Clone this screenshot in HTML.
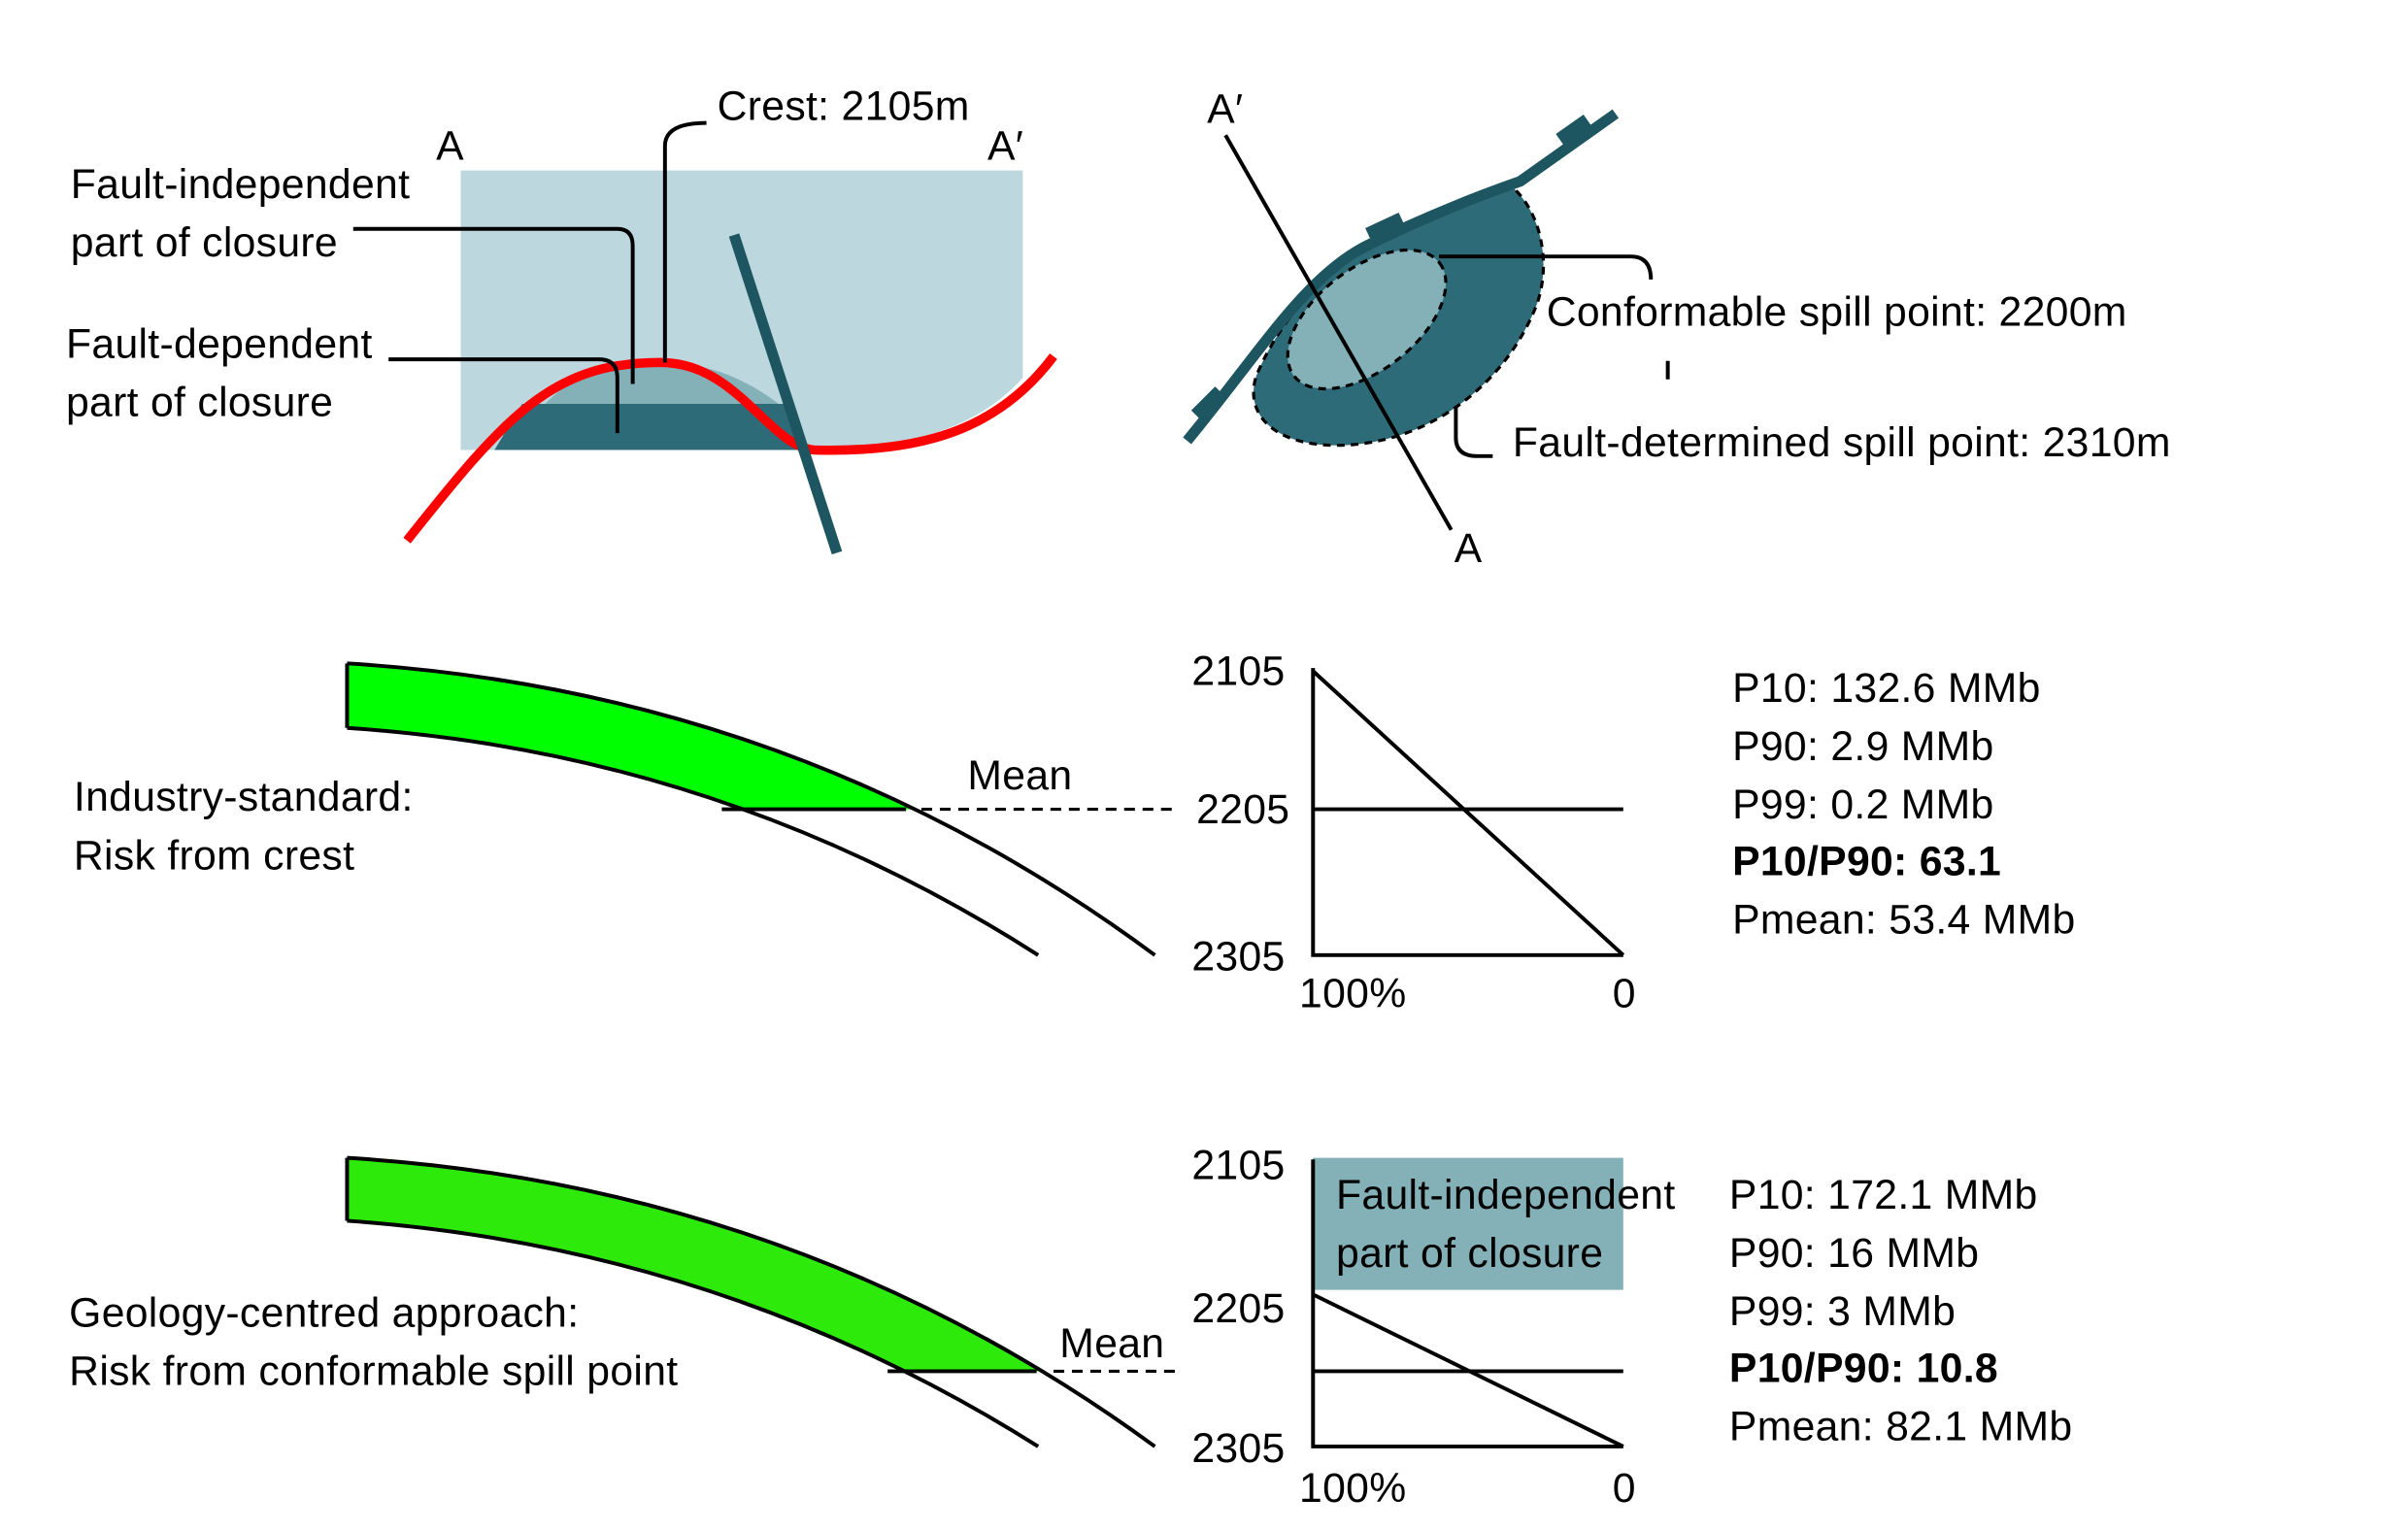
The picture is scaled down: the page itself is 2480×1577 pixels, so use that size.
<!DOCTYPE html>
<html><head><meta charset="utf-8"><style>html,body{margin:0;padding:0;background:#fff}svg{display:block}</style></head>
<body>
<svg width="2480" height="1577" viewBox="0 0 1568 997" xmlns="http://www.w3.org/2000/svg" font-family="Liberation Sans, sans-serif" font-size="27" letter-spacing="0.2" fill="#000">
<defs>
<clipPath id="c1"><rect x="0" y="0" width="1568" height="527"/></clipPath>
<clipPath id="c2"><rect x="0" y="0" width="1568" height="893"/></clipPath>
</defs>
<rect width="1568" height="997" fill="#fff"/>
<path d="M300,111 L666,111 L666,246 C640,275 600,292 530,293 L300,293 Z" fill="#bcd7dd"/>
<path d="M355,263 C375,242 400,236 430,236 C465,236 490,250 507,263 Z" fill="#84b0b8"/>
<path d="M340,263 L512,263 L522,293 L322,293 Z" fill="#2e6b78"/>
<path d="M265,352 C330,270 360,236 430,236 C480,236 500,290 530,293 C600,295 650,280 686,232" fill="none" stroke="#ff0000" stroke-width="6"/>
<line x1="478" y1="153" x2="545" y2="360" stroke="#1d5560" stroke-width="7"/>
<path d="M460,80 Q433,80 433,95 L433,236" fill="none" stroke="#000" stroke-width="2.5"/>
<path d="M230,149 L402,149 Q412,149 412,160 L412,250" fill="none" stroke="#000" stroke-width="2.5"/>
<path d="M253,234 L390,234 Q402,234 402,246 L402,282" fill="none" stroke="#000" stroke-width="2.5"/>
<text x="467" y="78">Crest: 2105m</text>
<text x="284" y="104">A</text>
<text x="643" y="104">A′</text>
<text x="46" y="129">Fault-independent</text>
<text x="46" y="167">part of closure</text>
<text x="43" y="233">Fault-dependent</text>
<text x="43" y="271">part of closure</text>
<path d="M880,165 C930,140 960,125 985,122 C1005,140 1010,175 1000,200 C980,250 930,290 870,290 C830,290 810,270 818,245 C830,215 855,185 880,165 Z" fill="#2e6b78" stroke="#000" stroke-width="2" stroke-dasharray="5,4"/>
<ellipse cx="890" cy="208" rx="60" ry="33" transform="rotate(-38 890 208)" fill="#84b0b8" stroke="#000" stroke-width="2" stroke-dasharray="5,4"/>
<path d="M773,287 C820,230 850,180 890,160 C930,140 970,125 990,118 L1052,74" fill="none" stroke="#1d5560" stroke-width="7"/>
<rect x="776" y="258" width="22" height="10" fill="#1d5560" transform="rotate(-45 787 263)"/>
<rect x="890" y="143" width="24" height="10" fill="#1d5560" transform="rotate(-25 902 148)"/>
<rect x="1014" y="80" width="22" height="10" fill="#1d5560" transform="rotate(-35 1025 85)"/>
<line x1="798" y1="88" x2="945" y2="345" stroke="#000" stroke-width="2.5"/>
<text x="786" y="80">A′</text>
<text x="947" y="366">A</text>
<path d="M937,167 L1062,167 Q1075,167 1075,182" fill="none" stroke="#000" stroke-width="2.5"/>
<line x1="1086" y1="235" x2="1086" y2="247" stroke="#000" stroke-width="2.5"/>
<path d="M948,265 L948,285 Q948,297 962,297 L972,297" fill="none" stroke="#000" stroke-width="2.5"/>
<text x="1007" y="212">Conformable spill point: 2200m</text>
<text x="985" y="297">Fault-determined spill point: 2310m</text>
<path d="M226,432 Q520,450 752,622 L676,622 Q470,490 226,474 Z" fill="#00ff00" clip-path="url(#c1)"/>
<line x1="226" y1="432" x2="226" y2="474" stroke="#000" stroke-width="2.5"/>
<path d="M226,432 Q520,450 752,622" fill="none" stroke="#000" stroke-width="2.5"/>
<path d="M226,474 Q470,490 676,622" fill="none" stroke="#000" stroke-width="2.5"/>
<line x1="470" y1="527" x2="590" y2="527" stroke="#000" stroke-width="2.5"/>
<line x1="600" y1="527" x2="765" y2="527" stroke="#000" stroke-width="2" stroke-dasharray="7,5"/>
<text x="630" y="514">Mean</text>
<text x="48" y="528">Industry-standard:</text>
<text x="48" y="566">Risk from crest</text>
<path d="M855,435 L855,622 L1057,622" fill="none" stroke="#000" stroke-width="2.5"/>
<line x1="855" y1="437" x2="1057" y2="622" stroke="#000" stroke-width="2.5"/>
<line x1="855" y1="527" x2="1057" y2="527" stroke="#000" stroke-width="2.5"/>
<text x="776" y="446">2105</text>
<text x="779" y="536">2205</text>
<text x="776" y="632">2305</text>
<text x="846" y="656">100%</text>
<text x="1050" y="656">0</text>
<text x="1128" y="457">P10: 132.6 MMb</text>
<text x="1128" y="495">P90: 2.9 MMb</text>
<text x="1128" y="533">P99: 0.2 MMb</text>
<text x="1128" y="570" font-weight="bold">P10/P90: 63.1</text>
<text x="1128" y="608">Pmean: 53.4 MMb</text>
<path d="M226,754 Q520,772 752,942 L676,942 Q470,812 226,795 Z" fill="#2eea0a" clip-path="url(#c2)"/>
<line x1="226" y1="754" x2="226" y2="795" stroke="#000" stroke-width="2.5"/>
<path d="M226,754 Q520,772 752,942" fill="none" stroke="#000" stroke-width="2.5"/>
<path d="M226,795 Q470,812 676,942" fill="none" stroke="#000" stroke-width="2.5"/>
<line x1="578" y1="893" x2="675" y2="893" stroke="#000" stroke-width="2.5"/>
<line x1="686" y1="893" x2="765" y2="893" stroke="#000" stroke-width="2" stroke-dasharray="7,5"/>
<text x="690" y="884">Mean</text>
<text x="45" y="864">Geology-centred approach:</text>
<text x="45" y="902">Risk from conformable spill point</text>
<rect x="855" y="754" width="202" height="86" fill="#84b0b8"/>
<text x="870" y="787">Fault-independent</text>
<text x="870" y="825">part of closure</text>
<path d="M855,755 L855,942 L1057,942" fill="none" stroke="#000" stroke-width="2.5"/>
<line x1="855" y1="843" x2="1057" y2="942" stroke="#000" stroke-width="2.5"/>
<line x1="855" y1="893" x2="1057" y2="893" stroke="#000" stroke-width="2.5"/>
<text x="776" y="768">2105</text>
<text x="776" y="861">2205</text>
<text x="776" y="952">2305</text>
<text x="846" y="978">100%</text>
<text x="1050" y="978">0</text>
<text x="1126" y="787">P10: 172.1 MMb</text>
<text x="1126" y="825">P90: 16 MMb</text>
<text x="1126" y="863">P99: 3 MMb</text>
<text x="1126" y="900" font-weight="bold">P10/P90: 10.8</text>
<text x="1126" y="938">Pmean: 82.1 MMb</text>
</svg>
</body></html>
